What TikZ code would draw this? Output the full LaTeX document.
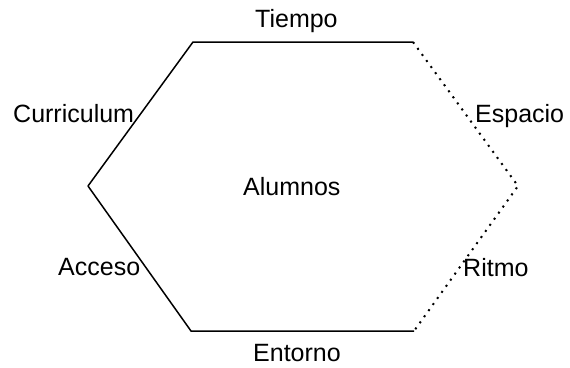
\documentclass[tikz,border=0pt]{standalone}
\usepackage{fontspec}
\setmainfont{Liberation Sans}
\begin{document}
\begin{tikzpicture}[x=1pt,y=-1pt,
  edge/.style={line width=1.5pt},
  dotedge/.style={line width=2pt,dash pattern=on 2pt off 5.5pt},
  lbl/.style={anchor=base west,inner sep=0pt,font=\fontsize{25}{27}\selectfont}]
\useasboundingbox[fill=white] (0,0) rectangle (570,367);
\coordinate (tl) at (193,42);
\coordinate (tr) at (413,42);
\coordinate (r) at (518,186);
\coordinate (br) at (414,331);
\coordinate (bl) at (191,331);
\coordinate (l) at (88,186);
\draw[edge] (l) -- (tl) -- (tr);
\draw[edge] (l) -- (bl) -- (br);
\draw[dotedge] (tr) -- (r) -- (br);
\node[lbl] (tiempo) at (255,27) {Tiempo};
\node[lbl] (curr) at (13,122) {Curriculum};
\node[lbl] (esp) at (475,122) {Espacio};
\node[lbl] (alum) at (243,195) {Alumnos};
\node[lbl] (acc) at (58,275) {Acceso};
\node[lbl] (ritmo) at (463,276) {Ritmo};
\node[lbl] (ent) at (253,361) {Entorno};
\end{tikzpicture}
\end{document}
